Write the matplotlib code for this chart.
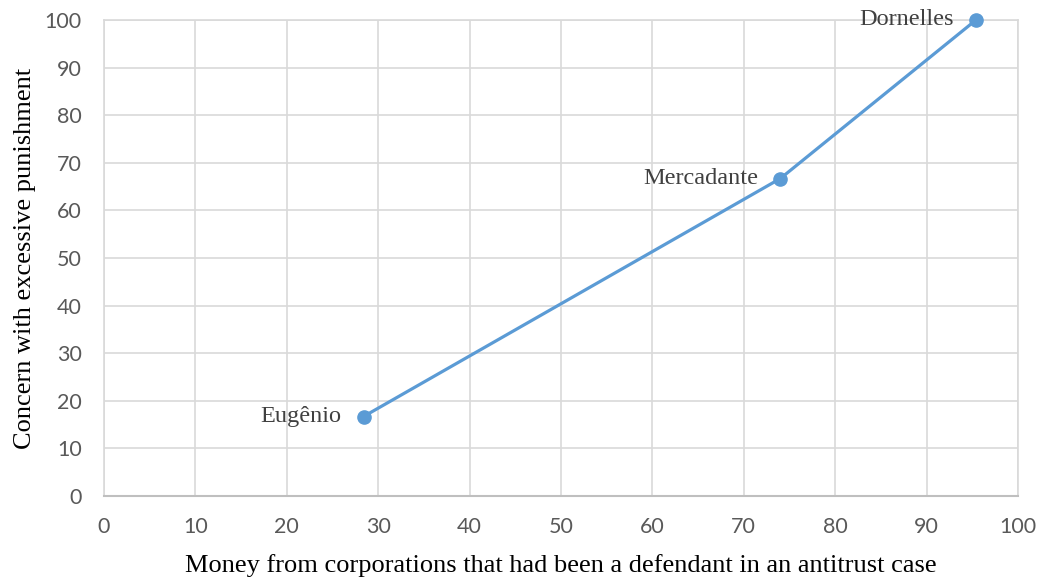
import matplotlib
matplotlib.use("Agg")
import matplotlib.pyplot as plt

names = ["Eugênio", "Mercadante", "Dornelles"]
money = [28.4, 74.0, 95.4]
concern = [16.7, 66.7, 100.0]
x_ticks = list(range(0, 101, 10))
y_ticks = list(range(0, 101, 10))

fig = plt.figure(figsize=(10.47, 5.83), dpi=100)
ax = fig.add_axes([0.0993, 0.1492, 0.9723 - 0.0993, 0.9657 - 0.1492])

ax.plot(money, concern, color="#5b9bd5", lw=2.3, marker="o", ms=9.5,
        solid_capstyle="round", zorder=3, clip_on=False)
for n, xv, yv in zip(names, money, concern):
    ax.annotate(n, (xv, yv), xytext=(-16, 0), textcoords="offset points",
                ha="right", va="center", fontsize=17.5, color="#404040",
                family="Liberation Serif", zorder=4)

ax.set_xlim(0, 100)
ax.set_ylim(0, 100)
ax.set_xticks(x_ticks)
ax.set_yticks(y_ticks)
ax.grid(True, color="#d9d9d9", lw=1.2)
ax.set_axisbelow(True)
for s in ["top", "right", "left"]:
    ax.spines[s].set_color("#d9d9d9")
    ax.spines[s].set_linewidth(1.2)
ax.spines["bottom"].set_color("#bfbfbf")
ax.spines["bottom"].set_linewidth(1.5)
ax.tick_params(length=0, labelsize=15.5, labelcolor="#595959")
ax.tick_params(axis="x", pad=15)
ax.tick_params(axis="y", pad=16)
for lab in ax.get_xticklabels() + ax.get_yticklabels():
    lab.set_family("Lato")

ax.set_xlabel("Money from corporations that had been a defendant in an antitrust case",
              family="Liberation Serif", fontsize=19, color="black", labelpad=12)
ax.set_ylabel("Concern with excessive punishment",
              family="Liberation Serif", fontsize=19, color="black", labelpad=6)

fig.savefig("out.png", dpi=100)
